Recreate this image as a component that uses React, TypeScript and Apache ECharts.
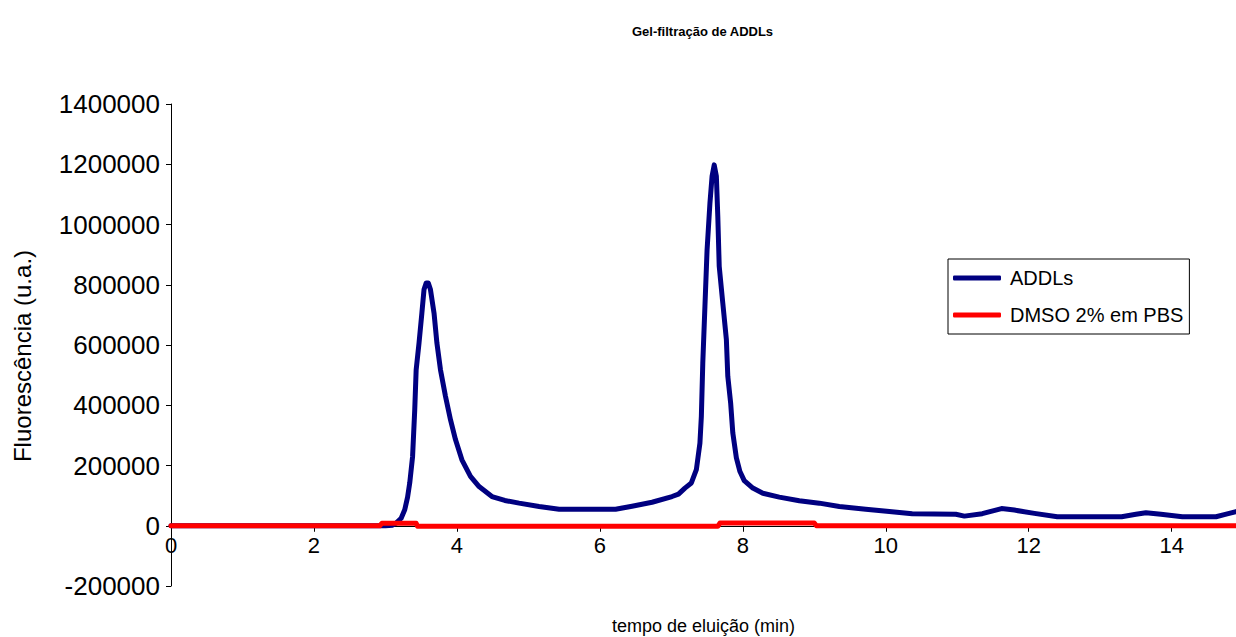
import React, { useEffect, useRef } from "react";
import * as echarts from "echarts";

const titleText = "Gel-filtração de ADDLs";
const xName = "tempo de eluição (min)";
const yName = "Fluorescência (u.a.)";
const seriesNames = ["ADDLs", "DMSO 2% em PBS"];
const xTicks = [0, 2, 4, 6, 8, 10, 12, 14];

const addlsTime = [
  0, 1, 2, 3.0, 3.1, 3.15, 3.22, 3.27, 3.31, 3.34, 3.38, 3.41, 3.43, 3.47, 3.51, 3.54, 3.57, 3.6,
  3.63, 3.68, 3.72, 3.77, 3.84, 3.91, 3.98, 4.07, 4.19, 4.31, 4.49, 4.67, 4.87, 5.15, 5.43, 5.8,
  6.22, 6.45, 6.73, 7.01, 7.1, 7.19, 7.28, 7.35, 7.4, 7.42, 7.44, 7.47, 7.5, 7.54, 7.57, 7.6,
  7.63, 7.65, 7.67, 7.72, 7.77, 7.79, 7.83, 7.86, 7.91, 7.96, 8.02, 8.14, 8.28, 8.51, 8.79, 9.07,
  9.35, 9.72, 10.05, 10.37, 10.98, 11.1, 11.35, 11.62, 11.8, 12.08, 12.4, 13.3, 13.5, 13.64,
  13.85, 14.15, 14.62, 14.75, 14.9,
];
const addlsValue = [
  0, 0, 0, 0, 2000, 9000, 25000, 53000, 95000, 142000, 230000, 385000, 518000, 607000, 706000,
  784000, 806000, 806000, 784000, 706000, 607000, 518000, 430000, 352000, 286000, 219000, 164000,
  130000, 97000, 84000, 75000, 64000, 55000, 55000, 55000, 65000, 78000, 97000, 105000, 125000,
  142000, 186000, 274000, 363000, 540000, 728000, 916000, 1071000, 1160000, 1198000, 1160000,
  1027000, 861000, 739000, 618000, 496000, 407000, 308000, 225000, 180000, 150000, 125000, 108000,
  95000, 83000, 75000, 64000, 55000, 47000, 40000, 38000, 32000, 40000, 57000, 52000, 41000, 30000,
  30000, 38000, 43000, 38000, 30000, 30000, 38000, 47000,
];

const dmsoTime = [0, 2.92, 2.95, 3.43, 3.45, 7.65, 7.68, 9.0, 9.03, 14.9];
const dmsoValue = [0, 0, 8000, 8000, -2000, -2000, 9000, 9000, 0, 0];

const Y_MIN = -200000;
const Y_MAX = 1400000;
const GRID_TOP = 104;
const GRID_BOTTOM = 51;
const CHART_H = 637;

export default function App() {
  const ref = useRef<HTMLDivElement>(null);
  useEffect(() => {
    if (!ref.current) return;
    const chart = echarts.init(ref.current, null, { renderer: "svg" });
    const font = "'Liberation Sans', Arial, sans-serif";
    const gridH = CHART_H - GRID_TOP - GRID_BOTTOM;
    // distance from the grid bottom up to the zero line, so the x axis sits at y = 0
    const zeroOffset = -(gridH * (0 - Y_MIN)) / (Y_MAX - Y_MIN);
    chart.setOption({
      animation: false,
      backgroundColor: "#ffffff",
      textStyle: { fontFamily: font, color: "#000" },
      title: {
        text: titleText,
        left: 627,
        top: 20,
        textStyle: { fontFamily: font, fontSize: 13, fontWeight: "bold", color: "#000" },
      },
      legend: {
        orient: "vertical",
        left: 948,
        top: 259,
        padding: [8, 6, 8, 5],
        itemGap: 15,
        itemWidth: 48,
        itemHeight: 5,
        icon: "roundRect",
        borderColor: "#000",
        borderWidth: 1,
        borderRadius: 0,
        backgroundColor: "#fff",
        data: seriesNames,
        textStyle: { fontFamily: font, fontSize: 20, color: "#000", lineHeight: 22, padding: [0, 0, 0, 4] },
      },
      grid: {
        left: 171,
        right: 0,
        top: GRID_TOP,
        bottom: GRID_BOTTOM,
        containLabel: false,
        outerBoundsMode: "none",
      },
      xAxis: {
        type: "value",
        min: 0,
        max: 14.9,
        interval: 2,
        offset: zeroOffset,
        name: xName,
        nameLocation: "middle",
        nameGap: 91,
        nameTextStyle: { fontFamily: font, fontSize: 18, color: "#000" },
        axisLine: { onZero: false, lineStyle: { color: "#000", width: 1 } },
        axisTick: { show: true, inside: false, length: 6, lineStyle: { color: "#000" }, customValues: xTicks },
        axisLabel: { fontFamily: font, fontSize: 22, color: "#000", margin: 9, customValues: xTicks },
        splitLine: { show: false },
      },
      yAxis: {
        type: "value",
        min: Y_MIN,
        max: Y_MAX,
        interval: 200000,
        name: yName,
        nameLocation: "middle",
        nameGap: 137,
        nameRotate: 90,
        nameTextStyle: { fontFamily: font, fontSize: 24, color: "#000", padding: [0, 22, 0, 0] },
        axisLine: { show: true, onZero: false, lineStyle: { color: "#000", width: 1 } },
        axisTick: { show: true, inside: false, length: 5, lineStyle: { color: "#000" } },
        axisLabel: {
          fontFamily: font,
          fontSize: 26,
          color: "#000",
          margin: 11,
          formatter: (v: number) => String(v),
        },
        splitLine: { show: false },
      },
      series: [
        {
          name: seriesNames[0],
          type: "line",
          data: addlsTime.map((t, i) => [t, addlsValue[i]]),
          showSymbol: false,
          symbol: "none",
          color: "#000080",
          lineStyle: { color: "#000080", width: 5, join: "round", cap: "round" },
          z: 2,
        },
        {
          name: seriesNames[1],
          type: "line",
          data: dmsoTime.map((t, i) => [t, dmsoValue[i]]),
          showSymbol: false,
          symbol: "none",
          color: "#ff0000",
          lineStyle: { color: "#ff0000", width: 5, join: "round", cap: "round" },
          z: 3,
        },
      ],
    });
    return () => chart.dispose();
  }, []);
  return (
    <div
      ref={ref}
      style={{ position: "absolute", left: 0, top: 0, width: 1236, height: CHART_H }}
    />
  );
}
